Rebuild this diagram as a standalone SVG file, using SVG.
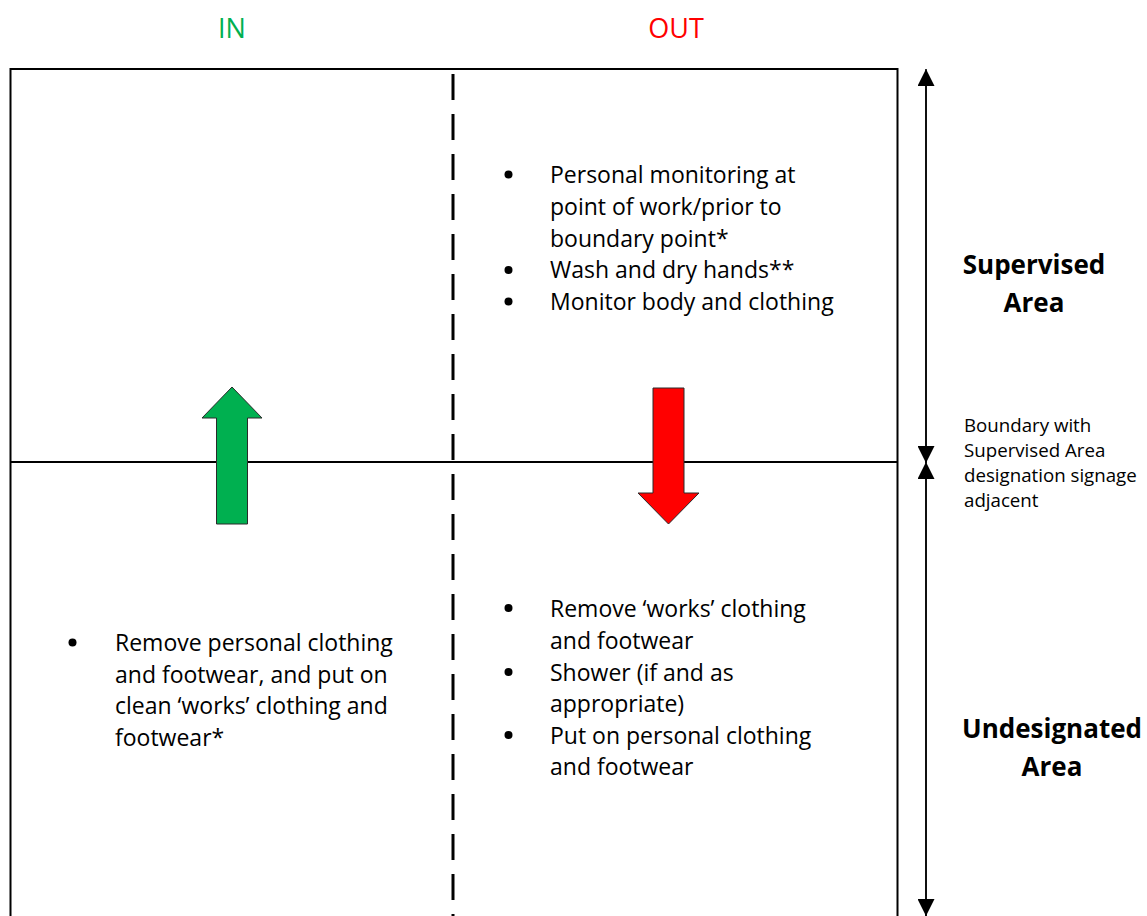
<svg xmlns="http://www.w3.org/2000/svg" width="1147" height="916" viewBox="0 0 1147 916">
  <style>
    .t { font-family: "Open Sans", "Liberation Sans", sans-serif; font-size: 23px; fill: #000; }
    .s { font-family: "Open Sans", "Liberation Sans", sans-serif; font-size: 18.7px; fill: #000; }
    .b { font-family: "Open Sans", "Liberation Sans", sans-serif; font-size: 26px; font-weight: bold; fill: #000; text-anchor: middle; }
    .h { font-family: "Open Sans", "Liberation Sans", sans-serif; font-size: 27px; text-anchor: middle; }
    .line { stroke: #000; stroke-width: 2; fill: none; }
    .dim { stroke: #000; stroke-width: 1.5; fill: none; }
    .bul { fill: #000; }
  </style>
  <defs>
    <marker id="ah" viewBox="0 0 17 17" refX="17" refY="8.5" markerWidth="17" markerHeight="17" markerUnits="userSpaceOnUse" orient="auto">
      <path d="M0,0 L17,8.5 L0,17 Z" fill="#000"/>
    </marker>
  </defs>
  <rect width="1147" height="916" fill="#fff"/>

  <g id="headers">
    <text class="h" x="232" y="38" fill="#00B050">IN</text>
    <text class="h" x="676" y="38" fill="#FF0000">OUT</text>
  </g>

  <g id="frame">
    <path class="line" d="M10.5,917 L10.5,69 L897.5,69 L897.5,917"/>
    <path class="line" d="M10.5,462 L897.5,462"/>
    <path d="M453,74 L453,916" stroke="#000" stroke-width="3" stroke-dasharray="26 14" fill="none"/>
  </g>

  <g id="connectors">
    <path class="dim" d="M926,462 L926,69" marker-end="url(#ah)"/>
    <path class="dim" d="M926,86 L926,463" marker-end="url(#ah)"/>
    <path class="dim" d="M926,916 L926,462" marker-end="url(#ah)"/>
    <path class="dim" d="M926,479 L926,916" marker-end="url(#ah)"/>
  </g>

  <g id="in-arrow">
    <path d="M232,387 L262,418 L247.5,418 L247.5,524 L216.5,524 L216.5,418 L202,418 Z" fill="#00B050" stroke="#2a2a2a" stroke-width="1"/>
  </g>

  <g id="out-arrow">
    <path d="M653,388 L684,388 L684,493 L699,493 L668.5,524 L638,493 L653,493 Z" fill="#FF0000" stroke="#2a2a2a" stroke-width="1"/>
  </g>

  <g id="supervised-out">
    <circle class="bul" cx="508.5" cy="174.5" r="4"/>
    <circle class="bul" cx="508.5" cy="270" r="4"/>
    <circle class="bul" cx="508.5" cy="301.5" r="4"/>
    <text class="t" x="550" y="183">Personal monitoring at</text>
    <text class="t" x="550" y="215">point of work/prior to</text>
    <text class="t" x="550" y="247">boundary point*</text>
    <text class="t" x="550" y="278">Wash and dry hands**</text>
    <text class="t" x="550" y="310">Monitor body and clothing</text>
  </g>

  <g id="undesignated-in">
    <circle class="bul" cx="72.5" cy="642.5" r="4"/>
    <text class="t" x="115" y="651">Remove personal clothing</text>
    <text class="t" x="115" y="683">and footwear, and put on</text>
    <text class="t" x="115" y="714">clean ‘works’ clothing and</text>
    <text class="t" x="115" y="746">footwear*</text>
  </g>

  <g id="undesignated-out">
    <circle class="bul" cx="508.5" cy="608" r="4"/>
    <circle class="bul" cx="508.5" cy="672" r="4"/>
    <circle class="bul" cx="508.5" cy="735" r="4"/>
    <text class="t" x="550" y="617">Remove ‘works’ clothing</text>
    <text class="t" x="550" y="649">and footwear</text>
    <text class="t" x="550" y="681">Shower (if and as</text>
    <text class="t" x="550" y="712">appropriate)</text>
    <text class="t" x="550" y="744">Put on personal clothing</text>
    <text class="t" x="550" y="775">and footwear</text>
  </g>

  <g id="label-supervised">
    <text class="b" x="1034" y="274">Supervised</text>
    <text class="b" x="1034" y="312">Area</text>
  </g>

  <g id="label-boundary">
    <text class="s" x="964" y="432">Boundary with</text>
    <text class="s" x="964" y="457">Supervised Area</text>
    <text class="s" x="964" y="482">designation signage</text>
    <text class="s" x="964" y="507">adjacent</text>
  </g>

  <g id="label-undesignated">
    <text class="b" x="1052" y="738">Undesignated</text>
    <text class="b" x="1052" y="776">Area</text>
  </g>
</svg>
